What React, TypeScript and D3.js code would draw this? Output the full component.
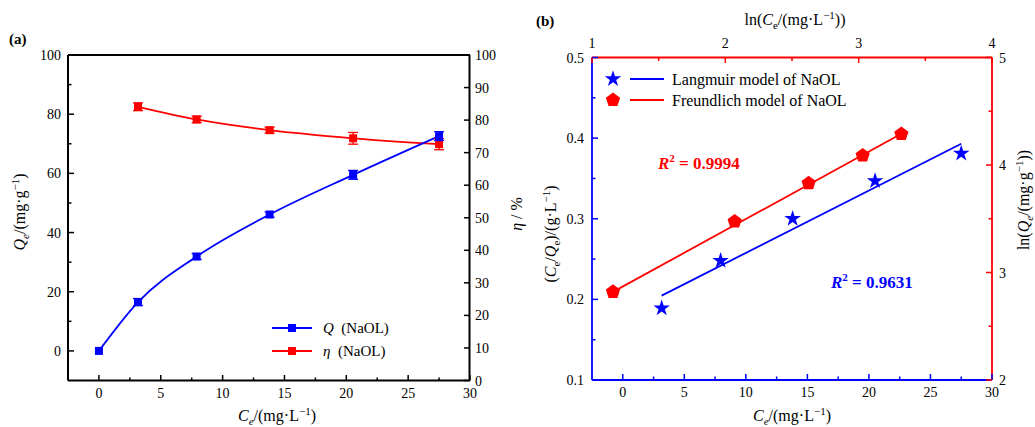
import React from "react";
import * as d3 from "d3";

// ---------- data ----------
const ceValues = [0, 3.16, 7.9, 13.8, 20.55, 27.5];
const qValues = [0, 16.5, 31.9, 46.1, 59.5, 72.6];
const qErrors = [0, 1.2, 1.0, 0.9, 1.5, 1.5];
const etaCe = [3.16, 7.9, 13.8, 20.55, 27.5];
const etaValues = [84.1, 80.2, 76.9, 74.4, 72.6];
const etaErrors = [1.2, 1.0, 0.9, 1.8, 1.7];

const langCe = [3.16, 7.95, 13.8, 20.5, 27.5];
const langCeQe = [0.189, 0.248, 0.3, 0.347, 0.381];
const langFitX = [3.16, 27.5];
const langFitY = [0.2047, 0.393];

const freLnCe = [1.1575, 2.07, 2.625, 3.03, 3.32];
const freLnQe = [2.82, 3.474, 3.83, 4.088, 4.288];
const freFitX = [1.1575, 3.32];
const freFitY = [2.82, 4.29];

const leftQTicks = [0, 20, 40, 60, 80, 100];
const leftQMinor = [10, 30, 50, 70, 90];
const etaTicks = [0, 10, 20, 30, 40, 50, 60, 70, 80, 90, 100];
const ceTicks = [0, 5, 10, 15, 20, 25, 30];
const ceMinor = [2.5, 7.5, 12.5, 17.5, 22.5, 27.5];
const ratioTicks = [0.1, 0.2, 0.3, 0.4, 0.5];
const ratioMinor = [0.15, 0.25, 0.35, 0.45];
const lnCeTicks = [1, 2, 3, 4];
const lnCeMinor = [1.5, 2.5, 3.5];
const lnQeTicks = [2, 3, 4, 5];
const lnQeMinor = [2.5, 3.5, 4.5];

const BLUE = "#0000FF";
const RED = "#FF0000";
const FONT = '"Liberation Serif", "DejaVu Serif", serif';

function pentagonPath(r: number) {
  const pts: string[] = [];
  for (let i = 0; i < 5; i++) {
    const a = -Math.PI / 2 + (i * 2 * Math.PI) / 5;
    pts.push(`${(r * Math.cos(a)).toFixed(2)},${(r * Math.sin(a)).toFixed(2)}`);
  }
  return "M" + pts.join("L") + "Z";
}

export default function App() {
  // ----- left panel scales -----
  const xL = d3.scaleLinear().domain([-2.5, 30]).range([68, 470]);
  const yQ = d3.scaleLinear().domain([-10, 100]).range([380.5, 55]);
  const yEta = d3.scaleLinear().domain([0, 100]).range([380.5, 55]);

  // ----- right panel scales -----
  const xB = d3.scaleLinear().domain([-2.5, 30]).range([592, 992]);
  const yLft = d3.scaleLinear().domain([0.1, 0.5]).range([380, 57.5]);
  const xT = d3.scaleLinear().domain([1, 4]).range([592, 992]);
  const yRgt = d3.scaleLinear().domain([2, 5]).range([380, 57.5]);

  const qLine = d3
    .line<number>()
    .x((_, i) => xL(ceValues[i]))
    .y((d) => yQ(d))
    .curve(d3.curveMonotoneX);
  const etaLine = d3
    .line<number>()
    .x((_, i) => xL(etaCe[i]))
    .y((d) => yEta(d))
    .curve(d3.curveMonotoneX);

  const starPath = d3.symbol().type(d3.symbolStar).size(85)() as string;
  const pent = pentagonPath(7.5);

  const tickStyle = { fontSize: 14, fill: "#000" } as const;

  return (
    <svg
      width={1035}
      height={427}
      style={{ position: "absolute", left: 0, top: 0, background: "#fff", fontFamily: FONT }}
    >
      <style>{`text, tspan { font-family: ${FONT}; }`}</style>
      <rect width={1035} height={427} fill="#fff" />
      {/* ================= LEFT PANEL ================= */}
      <text x={9} y={44} fontSize={15} fontWeight="bold">(a)</text>

      {/* data lines (under axes) */}
      <path d={etaLine(etaValues) || ""} fill="none" stroke={RED} strokeWidth={1.8} />
      <path d={qLine(qValues) || ""} fill="none" stroke={BLUE} strokeWidth={1.8} />

      {/* eta error bars and markers */}
      {etaValues.map((v, i) => {
        const x = xL(etaCe[i]);
        const y1 = yEta(v - etaErrors[i]);
        const y2 = yEta(v + etaErrors[i]);
        return (
          <g key={"e" + i} stroke={RED} strokeWidth={1.3}>
            <line x1={x} x2={x} y1={y1} y2={y2} />
            <line x1={x - 5} x2={x + 5} y1={y1} y2={y1} />
            <line x1={x - 5} x2={x + 5} y1={y2} y2={y2} />
            <rect x={x - 4} y={yEta(v) - 4} width={8} height={8} fill={RED} stroke="none" />
          </g>
        );
      })}
      {qValues.map((v, i) => {
        const x = xL(ceValues[i]);
        const y1 = yQ(v - qErrors[i]);
        const y2 = yQ(v + qErrors[i]);
        return (
          <g key={"q" + i} stroke={BLUE} strokeWidth={1.3}>
            {qErrors[i] > 0 && (
              <>
                <line x1={x} x2={x} y1={y1} y2={y2} />
                <line x1={x - 5} x2={x + 5} y1={y1} y2={y1} />
                <line x1={x - 5} x2={x + 5} y1={y2} y2={y2} />
              </>
            )}
            <rect x={x - 4} y={yQ(v) - 4} width={8} height={8} fill={BLUE} stroke="none" />
          </g>
        );
      })}

      {/* frame */}
      <g stroke="#000" strokeWidth={2} fill="none">
        <line x1={68} x2={470} y1={380.5} y2={380.5} />
        <line x1={68} x2={470} y1={55} y2={55} />
        <line x1={68} x2={68} y1={55} y2={380.5} />
        <line x1={469.5} x2={469.5} y1={55} y2={380.5} />
      </g>
      {/* left axis ticks */}
      {leftQTicks.map((t) => (
        <g key={"lq" + t}>
          <line x1={68} x2={74} y1={yQ(t)} y2={yQ(t)} stroke="#000" strokeWidth={1.5} />
          <text x={61} y={yQ(t) + 5} textAnchor="end" {...tickStyle}>{t}</text>
        </g>
      ))}
      {leftQMinor.map((t) => (
        <line key={"lqm" + t} x1={68} x2={71.5} y1={yQ(t)} y2={yQ(t)} stroke="#000" strokeWidth={1.5} />
      ))}
      {/* right eta ticks */}
      {etaTicks.map((t) => (
        <g key={"et" + t}>
          <line x1={469.5} x2={464} y1={yEta(t)} y2={yEta(t)} stroke="#000" strokeWidth={1.5} />
          <text x={475} y={yEta(t) + 5} textAnchor="start" {...tickStyle}>{t}</text>
        </g>
      ))}
      {/* bottom ticks */}
      {ceTicks.map((t) => (
        <g key={"cb" + t}>
          <line x1={xL(t)} x2={xL(t)} y1={380.5} y2={375} stroke="#000" strokeWidth={1.5} />
          <text x={xL(t)} y={398} textAnchor="middle" {...tickStyle}>{t}</text>
        </g>
      ))}
      {ceMinor.map((t) => (
        <line key={"cbm" + t} x1={xL(t)} x2={xL(t)} y1={380.5} y2={377.5} stroke="#000" strokeWidth={1.5} />
      ))}

      {/* axis titles */}
      <text x={277} y={421} textAnchor="middle" fontSize={16}>
        <tspan fontStyle="italic">C</tspan>
        <tspan fontStyle="italic" fontSize={11} dy={4}>e</tspan>
        <tspan dy={-4}>/(mg·L</tspan>
        <tspan fontSize={11} dy={-6}>−1</tspan>
        <tspan dy={6}>)</tspan>
      </text>
      <text transform="translate(25,212) rotate(-90)" textAnchor="middle" fontSize={16}>
        <tspan fontStyle="italic">Q</tspan>
        <tspan fontStyle="italic" fontSize={11} dy={4}>e</tspan>
        <tspan dy={-4}>/(mg·g</tspan>
        <tspan fontSize={11} dy={-6}>−1</tspan>
        <tspan dy={6}>)</tspan>
      </text>
      <text transform="translate(522,214) rotate(-90)" textAnchor="middle" fontSize={16}>
        <tspan fontStyle="italic">η</tspan>
        <tspan>{"\u00a0/\u00a0%"}</tspan>
      </text>

      {/* legend left */}
      <g>
        <line x1={272} x2={312} y1={328} y2={328} stroke={BLUE} strokeWidth={1.8} />
        <rect x={288} y={324} width={8} height={8} fill={BLUE} />
        <text x={323} y={333} fontSize={15}>
          <tspan fontStyle="italic">Q</tspan>
          <tspan>{"\u00a0\u00a0(NaOL)"}</tspan>
        </text>
        <line x1={272} x2={312} y1={351} y2={351} stroke={RED} strokeWidth={1.8} />
        <rect x={288} y={347} width={8} height={8} fill={RED} />
        <text x={323} y={356} fontSize={15}>
          <tspan fontStyle="italic">η</tspan>
          <tspan>{"\u00a0\u00a0(NaOL)"}</tspan>
        </text>
      </g>

      {/* ================= RIGHT PANEL ================= */}
      <text x={536} y={26} fontSize={15} fontWeight="bold">(b)</text>

      {/* fit lines */}
      <line
        x1={xB(langFitX[0])}
        y1={yLft(langFitY[0])}
        x2={xB(langFitX[1])}
        y2={yLft(langFitY[1])}
        stroke={BLUE}
        strokeWidth={1.8}
      />
      <line
        x1={xT(freFitX[0])}
        y1={yRgt(freFitY[0])}
        x2={xT(freFitX[1])}
        y2={yRgt(freFitY[1])}
        stroke={RED}
        strokeWidth={1.8}
      />
      {langCe.map((c, i) => (
        <path key={"ls" + i} d={starPath} transform={`translate(${xB(c)},${yLft(langCeQe[i])})`} fill={BLUE} />
      ))}
      {freLnCe.map((c, i) => (
        <path key={"fp" + i} d={pent} transform={`translate(${xT(c)},${yRgt(freLnQe[i])})`} fill={RED} />
      ))}

      {/* frame */}
      <g strokeWidth={1.8} fill="none">
        <line x1={592} x2={992} y1={57.5} y2={57.5} stroke={RED} />
        <line x1={992} x2={992} y1={57.5} y2={380} stroke={RED} />
        <line x1={592} x2={992} y1={380} y2={380} stroke={BLUE} />
        <line x1={592} x2={592} y1={57.5} y2={380} stroke={BLUE} />
      </g>
      {/* left ticks */}
      {ratioTicks.map((t) => (
        <g key={"rt" + t}>
          <line x1={592} x2={598} y1={yLft(t)} y2={yLft(t)} stroke={BLUE} strokeWidth={1.5} />
          <text x={584} y={yLft(t) + 5} textAnchor="end" {...tickStyle}>{t.toFixed(1)}</text>
        </g>
      ))}
      {ratioMinor.map((t) => (
        <line key={"rtm" + t} x1={592} x2={595.5} y1={yLft(t)} y2={yLft(t)} stroke={BLUE} strokeWidth={1.5} />
      ))}
      {/* bottom ticks */}
      {ceTicks.map((t) => (
        <g key={"bt" + t}>
          <line x1={xB(t)} x2={xB(t)} y1={380} y2={374} stroke={BLUE} strokeWidth={1.5} />
          <text x={xB(t)} y={397} textAnchor="middle" {...tickStyle}>{t}</text>
        </g>
      ))}
      {ceMinor.map((t) => (
        <line key={"btm" + t} x1={xB(t)} x2={xB(t)} y1={380} y2={376.5} stroke={BLUE} strokeWidth={1.5} />
      ))}
      {/* top ticks */}
      {lnCeTicks.map((t) => (
        <g key={"tt" + t}>
          <line x1={xT(t)} x2={xT(t)} y1={57.5} y2={63} stroke={RED} strokeWidth={1.5} />
          <text x={xT(t)} y={48} textAnchor="middle" {...tickStyle}>{t}</text>
        </g>
      ))}
      {lnCeMinor.map((t) => (
        <line key={"ttm" + t} x1={xT(t)} x2={xT(t)} y1={57.5} y2={61} stroke={RED} strokeWidth={1.5} />
      ))}
      {/* right ticks */}
      {lnQeTicks.map((t) => (
        <g key={"rr" + t}>
          <line x1={992} x2={986} y1={yRgt(t)} y2={yRgt(t)} stroke={RED} strokeWidth={1.5} />
          <text x={999} y={yRgt(t) + 5} textAnchor="start" {...tickStyle}>{t}</text>
        </g>
      ))}
      {lnQeMinor.map((t) => (
        <line key={"rrm" + t} x1={992} x2={988.5} y1={yRgt(t)} y2={yRgt(t)} stroke={RED} strokeWidth={1.5} />
      ))}

      {/* axis titles */}
      <text x={792} y={421} textAnchor="middle" fontSize={16}>
        <tspan fontStyle="italic">C</tspan>
        <tspan fontStyle="italic" fontSize={11} dy={4}>e</tspan>
        <tspan dy={-4}>/(mg·L</tspan>
        <tspan fontSize={11} dy={-6}>−1</tspan>
        <tspan dy={6}>)</tspan>
      </text>
      <text x={795} y={25} textAnchor="middle" fontSize={16}>
        <tspan>ln(</tspan>
        <tspan fontStyle="italic">C</tspan>
        <tspan fontSize={11} dy={4}>e</tspan>
        <tspan dy={-4}>/(mg·L</tspan>
        <tspan fontSize={11} dy={-6}>−1</tspan>
        <tspan dy={6}>))</tspan>
      </text>
      <text transform="translate(556,234) rotate(-90)" textAnchor="middle" fontSize={16}>
        <tspan>(</tspan>
        <tspan fontStyle="italic">C</tspan>
        <tspan fontSize={11} dy={4}>e</tspan>
        <tspan dy={-4}>/</tspan>
        <tspan fontStyle="italic">Q</tspan>
        <tspan fontSize={11} dy={4}>e</tspan>
        <tspan dy={-4}>)/(g·L</tspan>
        <tspan fontSize={11} dy={-6}>−1</tspan>
        <tspan dy={6}>)</tspan>
      </text>
      <text transform="translate(1029,200) rotate(-90)" textAnchor="middle" fontSize={16}>
        <tspan>ln(</tspan>
        <tspan fontStyle="italic">Q</tspan>
        <tspan fontStyle="italic" fontSize={11} dy={4}>e</tspan>
        <tspan dy={-4}>/(mg·g</tspan>
        <tspan fontSize={11} dy={-6}>−1</tspan>
        <tspan dy={6}>))</tspan>
      </text>

      {/* legend right */}
      <path d={starPath} transform="translate(613,79)" fill={BLUE} />
      <line x1={630} x2={664} y1={79} y2={79} stroke={BLUE} strokeWidth={1.8} />
      <text x={672} y={84.5} fontSize={16}>Langmuir model of NaOL</text>
      <path d={pent} transform="translate(613,100)" fill={RED} />
      <line x1={630} x2={664} y1={100} y2={100} stroke={RED} strokeWidth={1.8} />
      <text x={672} y={105.5} fontSize={16}>Freundlich model of NaOL</text>

      {/* R2 labels */}
      <text x={658} y={169} fontSize={17} fontWeight="bold" fill={RED}>
        <tspan fontStyle="italic">R</tspan>
        <tspan fontSize={11} dy={-7}>2</tspan>
        <tspan dy={7}>{"\u00a0=\u00a00.9994"}</tspan>
      </text>
      <text x={831} y={288} fontSize={17} fontWeight="bold" fill={BLUE}>
        <tspan fontStyle="italic">R</tspan>
        <tspan fontSize={11} dy={-7}>2</tspan>
        <tspan dy={7}>{"\u00a0=\u00a00.9631"}</tspan>
      </text>
    </svg>
  );
}
